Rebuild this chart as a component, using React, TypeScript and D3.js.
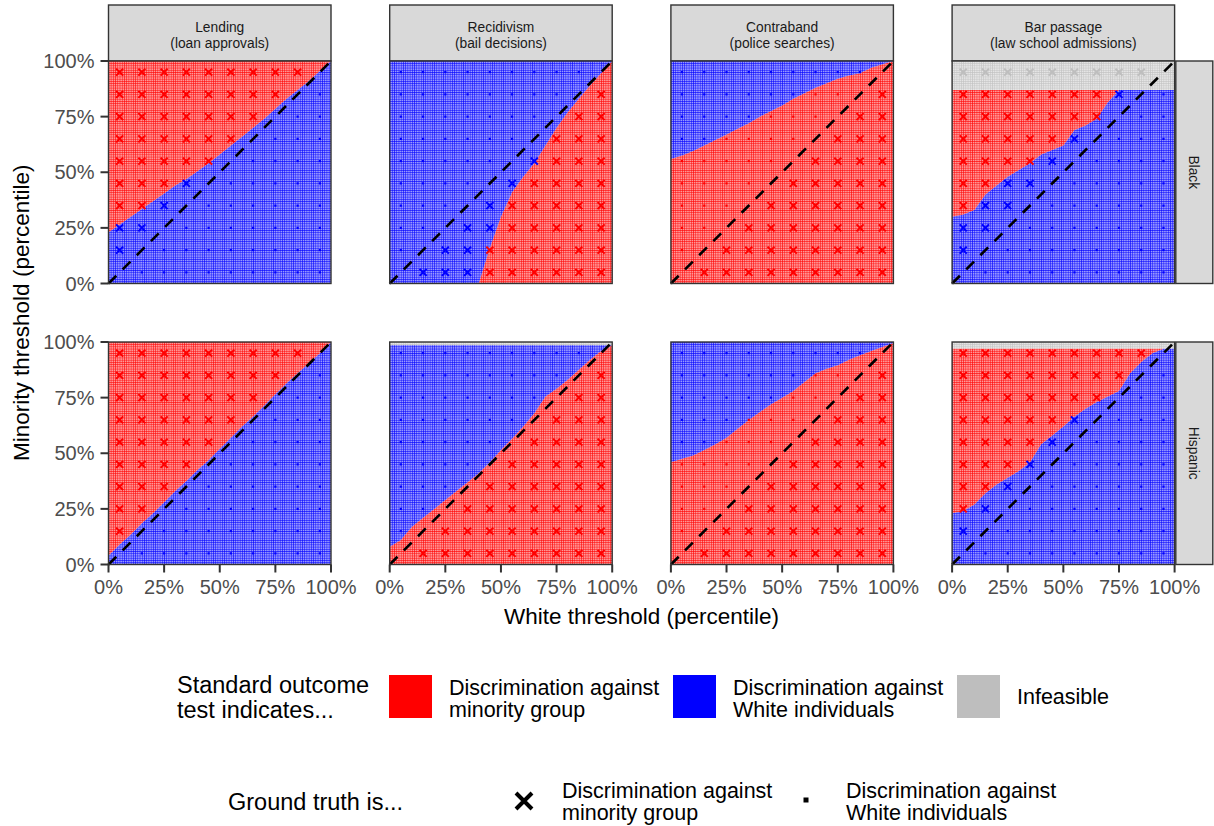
import React from "react";
import * as d3 from "d3";

// ---------- DATA ----------
const thresholdGrid = [0, 5, 10, 15, 20, 25, 30, 35, 40, 45, 50, 55, 60, 65, 70, 75, 80, 85, 90, 95, 100];
const markerCenters = [5, 15, 25, 35, 45, 55, 65, 75, 85, 95];
const domainTitles = ["Lending", "Recidivism", "Contraband", "Bar passage"];
const domainSubtitles = ["(loan approvals)", "(bail decisions)", "(police searches)", "(law school admissions)"];
const groups = ["Black", "Hispanic"];
const tickValues = [0, 25, 50, 75, 100];
const tickLabels = ["0%", "25%", "50%", "75%", "100%"];

// Which test result lies above the boundary (higher minority threshold)
const upperResult = ["minority", "white", "white", "minority"];
const lowerResult = ["white", "minority", "minority", "white"];

// Minority threshold (%) at which the standard outcome test flips, per white threshold in thresholdGrid
const lendingBlack = [23, 26.5, 30, 33.5, 37, 40.5, 44, 47, 50.5, 54, 58, 62, 66, 70, 74, 78.5, 83, 87, 91, 95.5, 100];
const lendingHispanic = [4, 9, 13.5, 18.5, 23, 28, 33, 37.5, 42.5, 47, 52, 57, 62, 66.5, 71.5, 76.5, 81.5, 86, 90.5, 95, 100];
const recidivismBlack = [0, 0, 0, 0, 0, 0, 0, 0, 0, 16, 30, 41, 48, 54, 62, 70, 77, 83, 89, 94.5, 100];
const recidivismHispanic = [8, 11, 17, 21, 25, 29, 33, 37, 41, 46, 51.5, 56.5, 62, 68, 75.5, 79, 83, 87.5, 92, 96, 98.5];
const contrabandBlack = [56, 57.5, 59.5, 62, 64.5, 67, 69.5, 72, 75, 77.5, 80, 83, 85.5, 88, 90, 92, 93.5, 94.5, 97, 98.5, 100];
const contrabandHispanic = [46, 47.5, 49, 51.5, 54, 57, 61, 65, 68.5, 72, 75, 78, 82, 86, 88, 89.5, 92, 94, 96, 97.8, 99.5];
const barPassageBlack = [30, 31, 33, 40, 44, 48, 51, 54, 58, 60, 62, 69, 71, 74, 81.5, 87, 87, 87, 87, 87, 87];
const barPassageHispanic = [23, 24, 27, 32, 36, 39, 42, 46, 54, 58, 62, 66.5, 70, 73, 75.5, 78, 86, 91, 95, 97, 97];

const boundaries = [
  [lendingBlack, recidivismBlack, contrabandBlack, barPassageBlack],
  [lendingHispanic, recidivismHispanic, contrabandHispanic, barPassageHispanic],
];
// Minority threshold above which the setting is infeasible
const infeasibleBlack = [100, 100, 100, 87];
const infeasibleHispanic = [100, 98.5, 100, 97];
const infeasible = [infeasibleBlack, infeasibleHispanic];

// Ground truth at the 10x10 marker grid, rows from minority threshold 95% down to 5%
// x = discrimination against minority group, o = discrimination against White individuals
const truthLending = [
  "xxxxxxxxx.", "xxxxxxxx.o", "xxxxxxx.oo", "xxxxxx.ooo", "xxxxx.oooo",
  "xxxx.ooooo", "xxx.oooooo", "xx.ooooooo", "x.oooooooo", ".ooooooooo",
];
const truthRecidivism = [
  "ooooooooo.", "oooooooo.x", "ooooooo.xx", "oooooo.xxx", "ooooo.xxxx",
  "oooo.xxxxx", "ooo.xxxxxx", "oo.xxxxxxx", "o.xxxxxxxx", ".xxxxxxxxx",
];
const truthContraband = [
  "ooooooooo.", "oooooooo.x", "ooooooo.xx", "oooooo.xxx", "ooooo.xxxx",
  "oooo.xxxxx", "ooo.xxxxxx", "oo.xxxxxxx", "o.xxxxxxxx", ".xxxxxxxxx",
];
const truthBarPassage = [
  "xxxxxxxxx.", "xxxxxxxx.o", "xxxxxxx.oo", "xxxxxx.ooo", "xxxxx.oooo",
  "xxxx.ooooo", "xxx.oooooo", "xx.ooooooo", "x.oooooooo", ".ooooooooo",
];
const truthGrids = [truthLending, truthRecidivism, truthContraband, truthBarPassage];

const resultColors: Record<string, string> = { minority: "#ff0000", white: "#0000ff", infeasible: "#bebebe" };
const legendFillLabels = [
  ["Discrimination against", "minority group"],
  ["Discrimination against", "White individuals"],
  ["Infeasible"],
];
const legendFillKeys = ["minority", "white", "infeasible"];

// ---------- LAYOUT ----------
const W = 1214;
const H = 826;
const P = 222.5;
const LEFT0 = 108.5;
const STEPX = 281.2;
const TOP0 = 61;
const STEPY = 281;
const FONT = "'Liberation Sans', Arial, Helvetica, sans-serif";
const cell = P / 100;

const xs = d3.scaleLinear().domain([0, 100]).range([0, P]);
const ys = d3.scaleLinear().domain([0, 100]).range([P, 0]);

function Panel({ row, col }: { row: number; col: number }) {
  const b = boundaries[row][col];
  const ceil = infeasible[row][col];
  const bAt = d3.scaleLinear().domain(thresholdGrid).range(b).clamp(true);
  const pts = thresholdGrid.map((t, i) => ({ t, b: b[i] }));
  const lowerArea = d3.area<{ t: number; b: number }>()
    .x((d) => xs(d.t))
    .y0(() => ys(0))
    .y1((d) => ys(d.b))(pts) as string;
  const upperArea = d3.area<{ t: number; b: number }>()
    .x((d) => xs(d.t))
    .y0((d) => ys(d.b))
    .y1(() => ys(ceil))(pts) as string;
  const up = upperResult[col];
  const lo = lowerResult[col];
  const grid = truthGrids[col];
  const markers: { x: number; y: number; type: string; res: string }[] = [];
  grid.forEach((rowStr, ri) => {
    const yv = markerCenters[markerCenters.length - 1 - ri];
    rowStr.split("").forEach((ch, ci) => {
      if (ch === ".") return;
      const xv = markerCenters[ci];
      const res = yv > ceil ? "infeasible" : yv > bAt(xv) ? up : lo;
      markers.push({ x: xv, y: yv, type: ch, res });
    });
  });
  const left = LEFT0 + col * STEPX;
  const top = TOP0 + row * STEPY;
  const diag = d3.line<number>().x((d) => xs(d)).y((d) => ys(d))([0, 100]) as string;
  return (
    <g transform={`translate(${left},${top})`}>
      <rect x={0} y={0} width={P} height={P} fill="#ffffff" />
      {ceil < 100 && (
        <rect x={0} y={ys(100)} width={P} height={ys(ceil) - ys(100)} fill="url(#tile-infeasible)" />
      )}
      <path d={lowerArea} fill={`url(#tile-${lo})`} />
      <path d={upperArea} fill={`url(#tile-${up})`} />
      {markers.map((m, i) =>
        m.type === "x" ? (
          <path
            key={i}
            transform={`translate(${xs(m.x)},${ys(m.y)})`}
            d="M-3.5,-3.5L3.5,3.5M-3.5,3.5L3.5,-3.5"
            stroke={resultColors[m.res]}
            strokeWidth={2.1}
            fill="none"
          />
        ) : (
          <rect key={i} x={xs(m.x) - 1.1} y={ys(m.y) - 1.1} width={2.2} height={2.2} fill={resultColors[m.res]} />
        )
      )}
      <path d={diag} stroke="#000" strokeWidth={2.6} strokeDasharray="11 9" fill="none" />
      <rect x={0} y={0} width={P} height={P} fill="none" stroke="#333333" strokeWidth={1.4} />
    </g>
  );
}

export default function App() {
  const rows = [0, 1];
  const cols = [0, 1, 2, 3];
  return (
    <svg
      width={W}
      height={H}
      viewBox={`0 0 ${W} ${H}`}
      style={{ position: "absolute", left: 0, top: 0, background: "#fff" }}
      fontFamily={FONT}
    >
      <defs>
        {legendFillKeys.map((k) => (
          <pattern key={k} id={`tile-${k}`} patternUnits="userSpaceOnUse" x={0} y={0} width={cell} height={cell}>
            <rect x={0} y={0} width={cell} height={cell} fill={resultColors[k]} fillOpacity={0.4} />
            <path
              d={`M0,0.28H${cell}M0.28,0V${cell}`}
              stroke={resultColors[k]}
              strokeWidth={0.56}
              fill="none"
            />
          </pattern>
        ))}
      </defs>
      <rect x={0} y={0} width={W} height={H} fill="#fff" />

      {/* Top strips */}
      {cols.map((c) => {
        const left = LEFT0 + c * STEPX;
        return (
          <g key={`ts${c}`}>
            <rect x={left} y={5} width={P} height={TOP0 - 5} fill="#d9d9d9" stroke="#333333" strokeWidth={1.4} />
            <text x={left + P / 2} y={31.5} textAnchor="middle" fontSize={13.8} fill="#1a1a1a">
              {domainTitles[c]}
            </text>
            <text x={left + P / 2} y={47.5} textAnchor="middle" fontSize={13.8} fill="#1a1a1a">
              {domainSubtitles[c]}
            </text>
          </g>
        );
      })}

      {/* Right strips */}
      {rows.map((r) => {
        const top = TOP0 + r * STEPY;
        const sx = LEFT0 + 3 * STEPX + P + 1.2;
        return (
          <g key={`rs${r}`}>
            <rect x={sx} y={top} width={37} height={P} fill="#d9d9d9" stroke="#333333" strokeWidth={1.4} />
            <text
              transform={`translate(${sx + 18.5},${top + P / 2}) rotate(90)`}
              textAnchor="middle"
              dy="0.35em"
              fontSize={13.8}
              fill="#1a1a1a"
            >
              {groups[r]}
            </text>
          </g>
        );
      })}

      {rows.map((r) => cols.map((c) => <Panel key={`p${r}${c}`} row={r} col={c} />))}

      {/* Y axes */}
      {rows.map((r) => {
        const top = TOP0 + r * STEPY;
        return (
          <g key={`ya${r}`} transform={`translate(${LEFT0},${top})`}>
            {tickValues.map((t, i) => (
              <g key={t}>
                <line x1={-8} x2={0} y1={ys(t)} y2={ys(t)} stroke="#333333" strokeWidth={2} />
                <text x={-14} y={ys(t)} dy="0.36em" textAnchor="end" fontSize={20} fill="#4d4d4d">
                  {tickLabels[i]}
                </text>
              </g>
            ))}
          </g>
        );
      })}

      {/* X axes */}
      {cols.map((c) => {
        const left = LEFT0 + c * STEPX;
        const bottom = TOP0 + STEPY + P;
        return (
          <g key={`xa${c}`} transform={`translate(${left},${bottom})`}>
            {tickValues.map((t, i) => (
              <g key={t}>
                <line x1={xs(t)} x2={xs(t)} y1={0} y2={8} stroke="#333333" strokeWidth={2} />
                <text x={xs(t)} y={29} textAnchor="middle" fontSize={20} fill="#4d4d4d">
                  {tickLabels[i]}
                </text>
              </g>
            ))}
          </g>
        );
      })}

      {/* Axis titles */}
      <text x={(LEFT0 + LEFT0 + 3 * STEPX + P) / 2} y={624} textAnchor="middle" fontSize={22.5} fill="#000">
        White threshold (percentile)
      </text>
      <text
        transform={`translate(29,${(TOP0 + TOP0 + STEPY + P) / 2}) rotate(-90)`}
        textAnchor="middle"
        fontSize={22.5}
        fill="#000"
      >
        Minority threshold (percentile)
      </text>

      {/* Legend: fill */}
      <text x={177} y={693} fontSize={23.5} fill="#000">Standard outcome</text>
      <text x={177} y={718} fontSize={23.5} fill="#000">test indicates...</text>
      {legendFillKeys.map((k, i) => {
        const kx = 389 + i * 284;
        const lines = legendFillLabels[i];
        return (
          <g key={k}>
            <rect x={kx} y={675} width={43} height={43} fill={resultColors[k]} />
            {lines.length === 2 ? (
              <>
                <text x={kx + 60} y={695} fontSize={21.5} fill="#000">{lines[0]}</text>
                <text x={kx + 60} y={717} fontSize={21.5} fill="#000">{lines[1]}</text>
              </>
            ) : (
              <text x={kx + 60} y={704} fontSize={21.5} fill="#000">{lines[0]}</text>
            )}
          </g>
        );
      })}

      {/* Legend: shape */}
      <text x={228} y={810} fontSize={23.5} fill="#000">Ground truth is...</text>
      <path d="M516,793L532,809M516,809L532,793" stroke="#000" strokeWidth={4} fill="none" />
      <text x={562} y={798} fontSize={21.5} fill="#000">Discrimination against</text>
      <text x={562} y={820} fontSize={21.5} fill="#000">minority group</text>
      <rect x={803.5} y={797.5} width={5} height={5} fill="#000" />
      <text x={846} y={798} fontSize={21.5} fill="#000">Discrimination against</text>
      <text x={846} y={820} fontSize={21.5} fill="#000">White individuals</text>
    </svg>
  );
}
